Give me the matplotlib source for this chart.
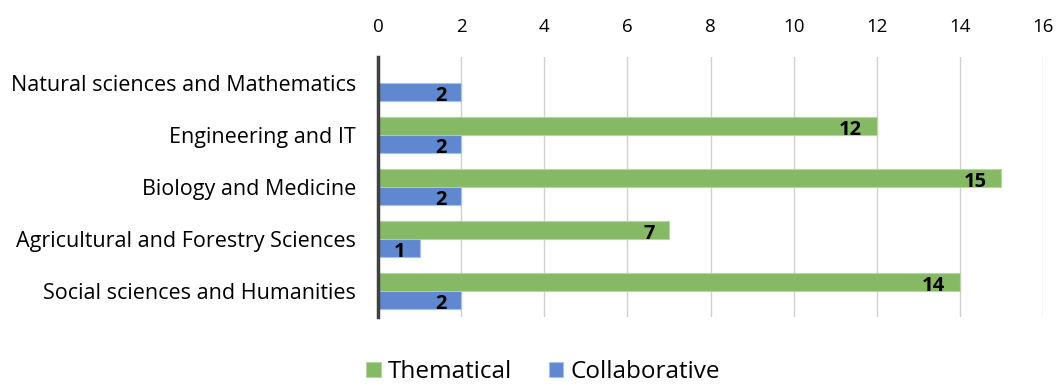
import matplotlib
matplotlib.use("Agg")
import matplotlib.pyplot as plt
import numpy as np

categories = ["Natural sciences and Mathematics", "Engineering and IT", "Biology and Medicine",
              "Agricultural and Forestry Sciences", "Social sciences and Humanities"]
thematical = [0, 12, 15, 7, 14]
collaborative = [2, 2, 2, 1, 2]
xticks = [0, 2, 4, 6, 8, 10, 12, 14, 16]

plt.rcParams['font.family'] = ['Open Sans', 'DejaVu Sans']

fig = plt.figure(figsize=(10.61, 3.85), dpi=100)
ax = fig.add_axes([378/1061, 1 - 317/385, (1043-378)/1061, 260/385])

green = '#86B964'
blue = '#5F88D1'
y = np.arange(len(categories))
h = 0.345
ax.barh(y - h/2, thematical, height=h, color=green, edgecolor='#B5D6A0', linewidth=0.8, label='Thematical', zorder=3)
ax.barh(y + h/2, collaborative, height=h, color=blue, edgecolor='#A9C1EA', linewidth=0.8, label='Collaborative', zorder=3)

for i, v in enumerate(thematical):
    if v > 0:
        ax.text(v - 0.35, i - h/2 + 0.08, str(v), ha='right', va='center', fontsize=14.5,
                fontweight='bold', color='black', zorder=4)
for i, v in enumerate(collaborative):
    ax.text(v - 0.35, i + h/2 + 0.08, str(v), ha='right', va='center', fontsize=14.5,
            fontweight='bold', color='black', zorder=4)

ax.set_xlim(0, 16)
ax.set_ylim(len(categories) - 0.5, -0.5)
ax.set_xticks(xticks)
ax.set_xticklabels([str(t) for t in xticks])
ax.xaxis.tick_top()
ax.tick_params(axis='x', length=0, pad=15, labelsize=13.5, colors='black')
ax.set_yticks(y)
ax.set_yticklabels(categories)
ax.tick_params(axis='y', length=0, pad=16, labelsize=15.5, colors='black')
ax.grid(axis='x', color='#D0D0D0', linewidth=1, zorder=0)
for s in ['top', 'right', 'bottom']:
    ax.spines[s].set_visible(False)
ax.spines['left'].set_color('#404040')
ax.spines['left'].set_linewidth(2.5)
ax.spines['left'].set_zorder(5)

leg = fig.legend(loc='center', bbox_to_anchor=(543/1061, 1 - 372/385), ncol=2, frameon=False,
                 fontsize=17.5, handlelength=0.6, handleheight=0.6, handletextpad=0.3,
                 columnspacing=1.5)

fig.savefig('out.png', dpi=100)
